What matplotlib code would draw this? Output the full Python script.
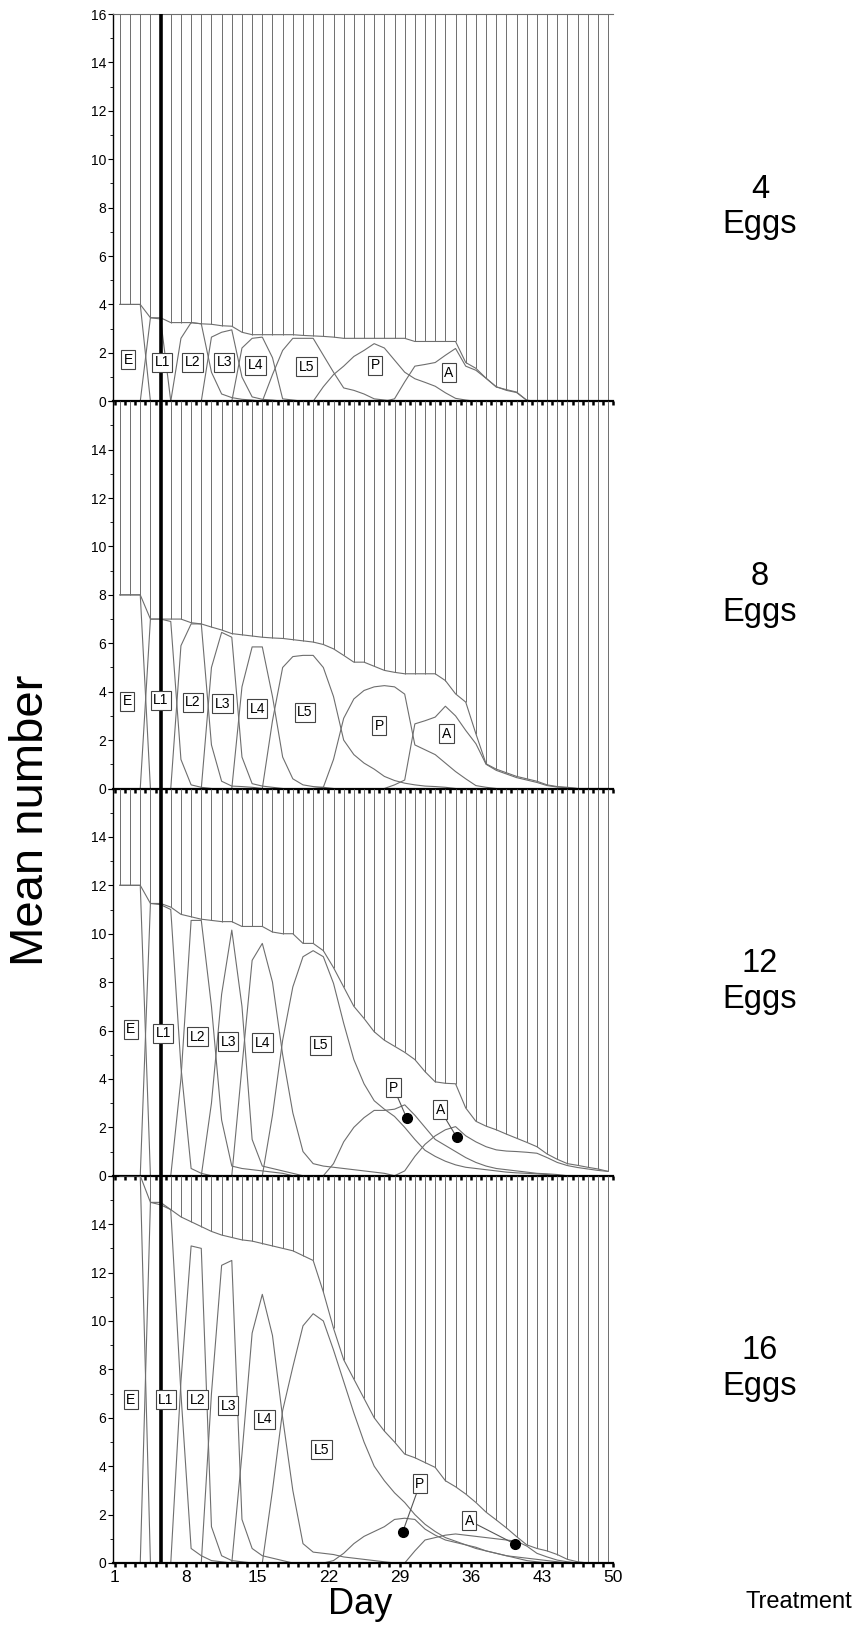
import numpy as np
import matplotlib.pyplot as plt

plt.rcParams['font.family'] = ['Liberation Sans', 'DejaVu Sans']

stages = ['E', 'L1', 'L2', 'L3', 'L4', 'L5', 'P', 'A']
treatments = [4, 8, 12, 16]
tick_days = [1, 8, 15, 22, 29, 36, 43, 50]

# Mean number alive per day (days 1-49), one list per treatment
total_4 = [4.0, 4.0, 4.0, 3.45, 3.45, 3.25, 3.25, 3.25, 3.2, 3.18,
           3.12, 3.1, 2.85, 2.75, 2.75, 2.75, 2.75, 2.75, 2.72, 2.7,
           2.68, 2.65, 2.6, 2.6, 2.6, 2.6, 2.6, 2.6, 2.6, 2.47,
           2.47, 2.47, 2.47, 2.47, 1.6, 1.36, 0.95, 0.59, 0.48, 0.38,
           0.04, 0, 0, 0, 0, 0, 0, 0, 0]
total_8 = [8.0, 8.0, 8.0, 7.0, 7.0, 7.0, 7.0, 6.85, 6.8, 6.67,
           6.55, 6.4, 6.35, 6.3, 6.25, 6.22, 6.2, 6.15, 6.1, 6.05,
           5.95, 5.77, 5.5, 5.22, 5.22, 5.05, 4.88, 4.8, 4.74, 4.74,
           4.74, 4.74, 4.46, 3.91, 3.57, 2.26, 1.02, 0.8, 0.65, 0.5,
           0.4, 0.3, 0.15, 0.08, 0.05, 0, 0, 0, 0]
total_12 = [12.0, 12.0, 12.0, 11.25, 11.25, 11.1, 10.8, 10.7, 10.6, 10.55,
            10.5, 10.5, 10.3, 10.3, 10.3, 10.07, 10.0, 10.0, 9.6, 9.6,
            9.3, 8.6, 7.8, 7.0, 6.5, 5.95, 5.6, 5.35, 5.1, 4.8,
            4.3, 3.88, 3.82, 3.8, 2.8, 2.25, 2.05, 1.9, 1.72, 1.55,
            1.38, 1.2, 0.9, 0.68, 0.5, 0.43, 0.35, 0.28, 0.18]
total_16 = [16.0, 16.0, 16.0, 14.9, 14.9, 14.6, 14.3, 14.1, 13.9, 13.7,
            13.55, 13.45, 13.35, 13.3, 13.2, 13.1, 13.0, 12.9, 12.7, 12.5,
            11.2, 9.7, 8.4, 7.6, 6.8, 6.0, 5.45, 5.0, 4.5, 4.35,
            4.15, 3.95, 3.4, 3.15, 2.85, 2.5, 2.1, 1.78, 1.45, 1.09,
            0.75, 0.6, 0.5, 0.35, 0.15, 0.05, 0, 0, 0]

# Stage curves: (first day, mean number on consecutive days)
e_4 = (1, [4, 4, 4, 0])
l1_4 = (3, [0, 3.45, 3.4, 0])
l2_4 = (6, [0, 2.6, 3.25, 3.2, 1.2, 0.3, 0.15, 0.08, 0.05, 0])
l3_4 = (9, [0, 2.65, 2.85, 2.95, 1.0, 0.18, 0.08, 0.05, 0])
l4_4 = (12, [0, 2.2, 2.6, 2.65, 1.8, 0.1, 0.05, 0])
l5_4 = (15, [0, 1.1, 2.1, 2.6, 2.6, 2.6, 1.9, 1.2, 0.55, 0.45, 0.3, 0.1, 0.05, 0])
p_4 = (20, [0, 0.6, 1.1, 1.45, 1.85, 2.1, 2.38, 2.2, 1.7, 1.2, 0.93, 0.78,
            0.62, 0.35, 0.12, 0.05, 0])
a_4 = (27, [0, 0.1, 0.8, 1.45, 1.52, 1.6, 1.9, 2.18, 1.45, 1.28, 0.95, 0.6,
            0.45, 0.36, 0.04, 0])

e_8 = (1, [8, 8, 8, 0])
l1_8 = (3, [0, 7.0, 7.0, 6.9, 1.2, 0.15, 0.05, 0])
l2_8 = (6, [0, 5.9, 6.8, 6.8, 1.8, 0.3, 0.1, 0.08, 0.05, 0])
l3_8 = (9, [0, 5.0, 6.45, 6.25, 1.3, 0.2, 0.1, 0.05, 0])
l4_8 = (12, [0, 4.2, 5.85, 5.85, 3.8, 1.3, 0.4, 0.15, 0.08, 0.05, 0])
l5_8 = (15, [0, 2.8, 5.0, 5.45, 5.5, 5.5, 5.0, 3.8, 2.0, 1.4, 1.05, 0.8,
             0.5, 0.33, 0.22, 0.15, 0.1, 0.08, 0.05, 0])
p_8 = (20, [0, 0.05, 1.2, 2.9, 3.7, 4.05, 4.2, 4.25, 4.2, 3.9, 1.8, 1.6,
            1.4, 1.05, 0.7, 0.4, 0.12, 0.05, 0])
a_8 = (27, [0, 0.15, 0.35, 2.67, 2.8, 2.95, 3.4, 3.0, 2.4, 1.85, 1.0, 0.75,
            0.6, 0.45, 0.35, 0.25, 0.12, 0.06, 0.03, 0])

e_12 = (1, [12, 12, 12, 0])
l1_12 = (3, [0, 11.25, 11.2, 11.0, 4.5, 0.3, 0.1, 0])
l2_12 = (6, [0, 4.0, 10.55, 10.55, 7.0, 2.3, 0.4, 0.3, 0.25, 0.2, 0.15, 0.1, 0])
l3_12 = (9, [0, 3.0, 7.5, 10.15, 7.0, 1.5, 0.4, 0.3, 0.2, 0.1, 0])
l4_12 = (12, [0, 4.5, 8.9, 9.6, 8.0, 5.0, 2.6, 1.0, 0.5, 0.4, 0.35, 0.3,
              0.25, 0.2, 0.15, 0.1, 0])
l5_12 = (15, [0, 2.5, 5.6, 7.8, 9.05, 9.3, 9.05, 7.95, 6.3, 4.8, 3.8, 3.1,
              2.75, 2.45, 2.0, 1.5, 1.05, 0.8, 0.6, 0.45, 0.35, 0.3, 0.25,
              0.2, 0.15, 0.12, 0.1, 0.08, 0.05, 0])
p_12 = (21, [0, 0.5, 1.4, 2.0, 2.4, 2.7, 2.7, 2.75, 2.93, 2.5, 2.0, 1.5,
             1.25, 1.0, 0.75, 0.55, 0.4, 0.3, 0.25, 0.2, 0.15, 0.1, 0.08,
             0.05, 0])
a_12 = (28, [0, 0.2, 0.8, 1.3, 1.65, 1.9, 2.03, 1.65, 1.4, 1.2, 1.07, 1.02,
             1.0, 0.97, 0.93, 0.75, 0.55, 0.42, 0.34, 0.28, 0.22, 0.18])

e_16 = (1, [16, 16, 16, 0])
l1_16 = (3, [0, 14.9, 14.8, 14.6, 7.0, 0.6, 0.3, 0.1, 0.05, 0])
l2_16 = (6, [0, 7.5, 13.1, 13.0, 1.5, 0.3, 0.1, 0.05, 0])
l3_16 = (9, [0, 7.0, 12.3, 12.5, 1.8, 0.6, 0.3, 0.2, 0.1, 0])
l4_16 = (12, [0, 4.5, 9.5, 11.1, 9.4, 6.0, 3.0, 0.8, 0.45, 0.4, 0.35, 0.25,
              0.2, 0.15, 0.1, 0.05, 0])
l5_16 = (15, [0, 3.0, 6.3, 8.1, 9.8, 10.3, 10.0, 8.8, 7.5, 6.2, 5.0, 4.0,
              3.4, 2.9, 2.5, 2.0, 1.6, 1.3, 1.05, 0.9, 0.75, 0.6, 0.5, 0.4,
              0.3, 0.25, 0.2, 0.15, 0.1, 0.05, 0])
p_16 = (21, [0, 0.1, 0.4, 0.8, 1.1, 1.3, 1.5, 1.8, 1.85, 1.8, 1.4, 1.15,
             0.95, 0.85, 0.75, 0.65, 0.5, 0.4, 0.3, 0.2, 0.1, 0.05, 0])
a_16 = (29, [0, 0.5, 0.95, 1.05, 1.15, 1.2, 1.15, 1.1, 1.05, 1.0, 0.95, 0.9,
             0.7, 0.4, 0.25, 0.12, 0.05, 0])

# Where each stage name sits (day, mean number)
label_x_4 = [2.32, 5.66, 8.65, 11.75, 14.85, 19.86, 26.6, 33.85]
label_y_4 = [1.72, 1.62, 1.62, 1.62, 1.49, 1.42, 1.49, 1.17]
label_x_8 = [2.22, 5.54, 8.7, 11.6, 15.0, 19.7, 27.0, 33.6]
label_y_8 = [3.6, 3.64, 3.57, 3.5, 3.29, 3.15, 2.6, 2.26]
label_x_12 = [2.56, 5.76, 9.1, 12.15, 15.5, 21.2, 28.4, 33.0]
label_y_12 = [6.05, 5.88, 5.74, 5.54, 5.5, 5.4, 3.64, 2.72]
label_x_16 = [2.56, 6.03, 9.1, 12.15, 15.7, 21.3, 31.0, 35.85]
label_y_16 = [6.74, 6.74, 6.74, 6.49, 5.94, 4.67, 3.27, 1.75]

# Pointed-at P and A points in the two densest treatments
dot_p_12 = (29.7, 2.38)
dot_a_12 = (34.6, 1.6)
dot_p_16 = (29.3, 1.28)
dot_a_16 = (40.3, 0.79)

marker_day = 5.5

panels = [
    (total_4, [e_4, l1_4, l2_4, l3_4, l4_4, l5_4, p_4, a_4], label_x_4, label_y_4, None),
    (total_8, [e_8, l1_8, l2_8, l3_8, l4_8, l5_8, p_8, a_8], label_x_8, label_y_8, None),
    (total_12, [e_12, l1_12, l2_12, l3_12, l4_12, l5_12, p_12, a_12],
     label_x_12, label_y_12, (dot_p_12, dot_a_12)),
    (total_16, [e_16, l1_16, l2_16, l3_16, l4_16, l5_16, p_16, a_16],
     label_x_16, label_y_16, (dot_p_16, dot_a_16)),
]

W, H = 853.0, 1627.0
fig = plt.figure(figsize=(W / 100, H / 100), dpi=100)
fig.patch.set_facecolor('white')

panel_h = 387.25
top0 = 14.0
ax_left = 113.0
ax_w = 500.2

line_col = '#6e6e6e'
box_style = dict(boxstyle='square,pad=0.18', fc='white', ec='#444444', lw=0.8)

for k, (total, curves, lx, ly, dots) in enumerate(panels):
    top = top0 + k * panel_h
    ax = fig.add_axes([ax_left / W, 1 - (top + panel_h) / H, ax_w / W, panel_h / H])
    ax.patch.set_visible(False)

    # counts are plotted at the middle of each day
    days = np.arange(1, len(total) + 1) + 0.5
    ax.vlines(days, total, 16, color=line_col, lw=0.7, zorder=1)
    ax.plot(days, total, color=line_col, lw=0.8, zorder=2)

    for start, vals in curves:
        x = np.arange(start, start + len(vals)) + 0.5
        ax.plot(x, vals, color=line_col, lw=0.8, zorder=2)

    ax.axvline(marker_day, color='black', lw=2.6, zorder=3)

    if dots is None:
        for name, x, y in zip(stages, lx, ly):
            ax.text(x, y, name, ha='center', va='center', fontsize=10,
                    bbox=box_style, zorder=5)
    else:
        for name, x, y in zip(stages[:6], lx[:6], ly[:6]):
            ax.text(x, y, name, ha='center', va='center', fontsize=10,
                    bbox=box_style, zorder=5)
        for name, x, y, d in zip(stages[6:], lx[6:], ly[6:], dots):
            ax.annotate(name, xy=d, xytext=(x, y), ha='center', va='center',
                        fontsize=10, bbox=box_style, zorder=5,
                        arrowprops=dict(arrowstyle='-', color='#555555', lw=0.8,
                                        shrinkA=0, shrinkB=0))
            ax.plot(*d, 'o', color='black', ms=7, zorder=6)

    ax.set_xlim(0.82, 50.0)
    ax.set_ylim(0, 16)

    for side in ['top', 'right']:
        ax.spines[side].set_visible(False)
    if k == 0:
        ax.spines['top'].set_visible(True)
        ax.spines['top'].set_color(line_col)
        ax.spines['top'].set_linewidth(0.8)
    ax.spines['left'].set_linewidth(1.0)
    ax.spines['bottom'].set_linewidth(1.6)
    ax.spines['bottom'].set_zorder(4)

    ax.set_yticks(range(0, 17, 2))
    ax.set_yticks(range(1, 17, 2), minor=True)
    ylabels = [str(v) for v in range(0, 17, 2)]
    if k > 0:
        ylabels[-1] = ''
    ax.set_yticklabels(ylabels)
    ax.tick_params(axis='y', which='major', direction='out', length=3.5,
                   width=0.8, labelsize=10, pad=1.5)
    ax.tick_params(axis='y', which='minor', direction='out', length=2, width=0.6)

    all_days = list(range(1, 51))
    ax.set_xticks(all_days)
    if k == len(panels) - 1:
        ax.set_xticklabels([str(d) if d in tick_days else '' for d in all_days])
    else:
        ax.set_xticklabels([''] * len(all_days))
    ax.tick_params(axis='x', direction='out', length=3, width=1.8,
                   labelsize=12.5, pad=2)

    # treatment name to the right of each panel
    fig.text(760 / W, 1 - (189 + k * panel_h) / H, f'{treatments[k]}',
             ha='center', va='center', fontsize=23.5)
    fig.text(760 / W, 1 - (225 + k * panel_h) / H, 'Eggs',
             ha='center', va='center', fontsize=23.5)

fig.text(31 / W, 1 - 820 / H, 'Mean number', rotation=90,
         ha='center', va='center', fontsize=34)
fig.text(360 / W, 1 - 1604 / H, 'Day', ha='center', va='center', fontsize=26)
fig.text(799 / W, 1 - 1602 / H, 'Treatment', ha='center', va='center', fontsize=17)

fig.savefig('out.png', dpi=100)
